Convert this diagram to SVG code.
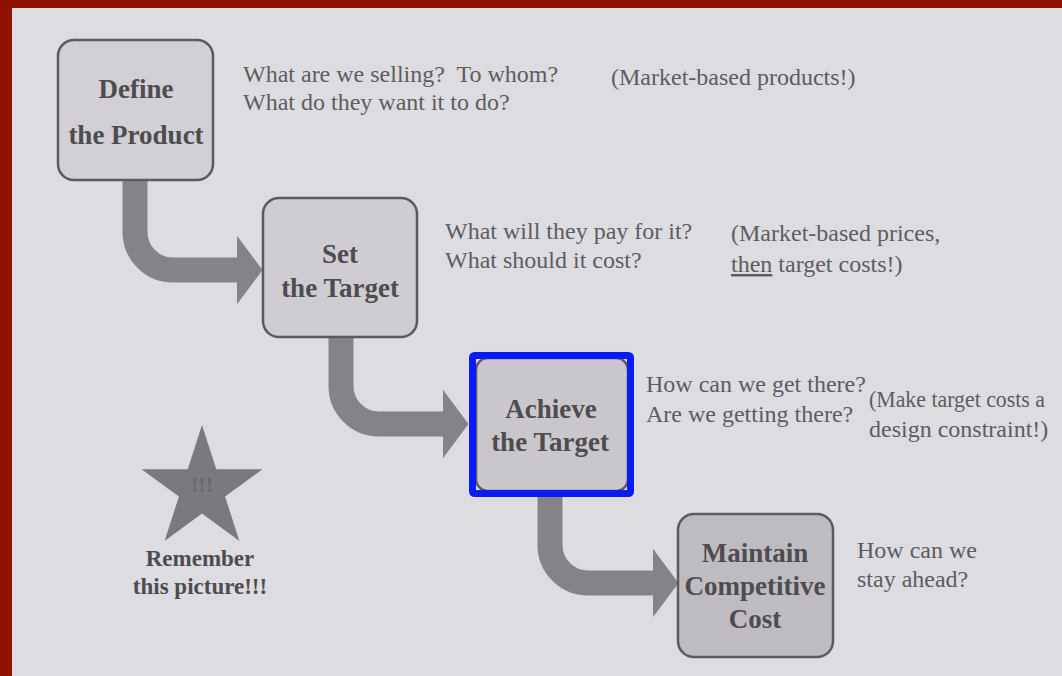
<svg xmlns="http://www.w3.org/2000/svg" width="1062" height="676" viewBox="0 0 1062 676">
  <style>
    .box { stroke: #5c5a5e; stroke-width: 2.5; }
    .title { font-family: "Liberation Serif", "Times New Roman", serif; font-weight: bold; font-size: 27px; fill: #4e4c50; text-anchor: middle; }
    .note { font-family: "Liberation Serif", "Times New Roman", serif; font-size: 24px; fill: #5e5c60; white-space: pre; }
    .shaft { fill: none; stroke: #858387; stroke-width: 25; }
  </style>
  <defs>
    <marker id="head" markerUnits="userSpaceOnUse" markerWidth="26" markerHeight="70" viewBox="0 0 26 70" refX="0.5" refY="35" orient="auto">
      <polygon points="0,0 26,35 0,70" fill="#858387"/>
    </marker>
  </defs>

  <!-- page -->
  <rect x="0" y="0" width="1062" height="676" fill="#dddce0"/>
  <rect x="0" y="0" width="1062" height="8" fill="#8e1100"/>
  <rect x="0" y="0" width="12" height="676" fill="#8e1100"/>

  <!-- connectors -->
  <g id="connectors">
    <path class="shaft" d="M135,180 V232 A38,38 0 0 0 173,270 H237" marker-end="url(#head)"/>
    <path class="shaft" d="M341,337 V386 A38,38 0 0 0 379,424 H443" marker-end="url(#head)"/>
    <path class="shaft" d="M550,495 V545 A38,38 0 0 0 588,583 H653" marker-end="url(#head)"/>
  </g>

  <!-- nodes -->
  <g id="define">
    <rect class="box" x="58" y="40" width="155" height="140" rx="16" fill="#d2d0d4"/>
    <text class="title" x="136" y="98">Define</text>
    <text class="title" x="136" y="144">the Product</text>
  </g>

  <g id="set">
    <rect class="box" x="263" y="198" width="154" height="139" rx="16" fill="#cfcdd1"/>
    <text class="title" x="340" y="263">Set</text>
    <text class="title" x="340" y="297">the Target</text>
  </g>

  <g id="achieve">
    <rect class="box" x="476" y="358" width="152" height="133" rx="12" fill="#c9c7cb"/>
    <text class="title" x="551" y="418" fill="#5a585c">Achieve</text>
    <text class="title" x="550" y="451" fill="#5a585c">the Target</text>
    <rect x="472.5" y="355.5" width="158" height="138" rx="2" fill="none" stroke="#0a1cf5" stroke-width="7"/>
  </g>

  <g id="maintain">
    <rect class="box" x="678" y="514" width="155" height="143" rx="16" fill="#bebcc0"/>
    <text class="title" x="755" y="562">Maintain</text>
    <text class="title" x="755" y="595">Competitive</text>
    <text class="title" x="755" y="628">Cost</text>
  </g>

  <g id="star">
    <polygon fill="#7b797d" points="202,425 216.3,469.3 262.5,469.3 225.1,496.6 239.4,540.9 202,513.5 164.6,540.9 178.9,496.6 141.5,469.3 187.7,469.3"/>
    <text x="202" y="492" font-family="Liberation Serif, serif" font-weight="bold" font-size="22" fill="#6a686c" text-anchor="middle">!!!</text>
    <text class="title" x="200" y="566" style="font-size:23px" fill="#575559">Remember</text>
    <text class="title" x="200" y="594" style="font-size:23px" fill="#575559">this picture!!!</text>
  </g>

  <!-- side notes -->
  <g id="notes">
    <text class="note" x="243" y="82" xml:space="preserve">What are we selling?  To whom?</text>
    <text class="note" x="243" y="110">What do they want it to do?</text>
    <text class="note" x="611" y="85">(Market-based products!)</text>

    <text class="note" x="445" y="239">What will they pay for it?</text>
    <text class="note" x="445" y="268">What should it cost?</text>
    <text class="note" x="731" y="241">(Market-based prices,</text>
    <text class="note" x="731" y="272"><tspan text-decoration="underline">then</tspan> target costs!)</text>

    <text class="note" x="646" y="392">How can we get there?</text>
    <text class="note" x="646" y="422">Are we getting there?</text>
    <text class="note" x="869" y="407" textLength="176" lengthAdjust="spacingAndGlyphs">(Make target costs a</text>
    <text class="note" x="869" y="437">design constraint!)</text>

    <text class="note" x="857" y="558">How can we</text>
    <text class="note" x="857" y="587">stay ahead?</text>
  </g>
</svg>
